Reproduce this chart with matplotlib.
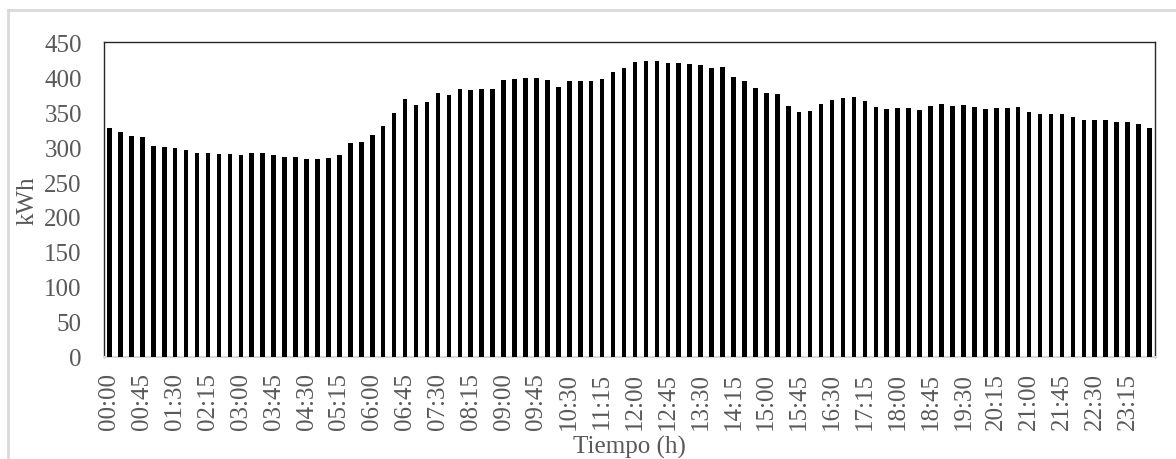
import matplotlib
matplotlib.use("Agg")
import matplotlib.pyplot as plt
from matplotlib.lines import Line2D

# Energy consumption per 15-minute interval over one day (kWh)
consumo_kwh = [
    327, 322, 316, 315, 302, 300, 299, 296, 292, 291, 290, 290, 289, 291, 291, 289,
    286, 286, 283, 283, 284, 289, 306, 307, 318, 330, 349,
    369, 360, 364, 377, 375, 383, 382, 383, 383, 396, 398, 399, 399, 396, 386, 395,
    394, 394, 398, 408, 413, 422, 423, 423, 421, 420, 419, 418, 413, 414, 401, 395,
    385, 378, 376,
    359, 350, 352, 362, 368, 370, 371, 366, 358, 354, 356, 356, 353, 359, 361, 359,
    360, 357, 355, 356, 356, 357, 350, 348, 348, 347, 343, 339, 339, 339, 336, 336,
    333, 328,
]

# Interval start times (hh:mm)
horas = [f"{(15 * i) // 60:02d}:{(15 * i) % 60:02d}" for i in range(96)]
paso_etiquetas = 3

y_ticks = [0, 50, 100, 150, 200, 250, 300, 350, 400, 450]

W, H = 1176, 460
fig = plt.figure(figsize=(W / 100, H / 100), dpi=100)
ax_w = 1155 - 104
ax_h = 357.7 - 43.3
ax = fig.add_axes([104 / W, 1 - 357.7 / H, ax_w / W, ax_h / H])

txt = "#595959"
fuente = "Liberation Serif"
fs = 18

pos = list(range(len(consumo_kwh)))
ax.bar(pos, consumo_kwh, width=0.42, color="black", zorder=3)

ax.set_xlim(-0.5, len(consumo_kwh) - 0.5)
ax.set_ylim(0, 450)
ax.set_yticks(y_ticks)
ax.set_yticklabels([str(v) for v in y_ticks], fontsize=fs, family=fuente, color=txt)
ax.set_xticks(pos[::paso_etiquetas])
ax.set_xticklabels(horas[::paso_etiquetas], rotation=90, fontsize=fs,
                   family=fuente, color=txt)
ax.tick_params(axis="both", length=0)
ax.tick_params(axis="y", pad=16)
ax.tick_params(axis="x", pad=11)

for lado in ("left", "top", "right"):
    ax.spines[lado].set_color("#262626")
    ax.spines[lado].set_linewidth(1.0)
ax.spines["bottom"].set_color("#d9d9d9")
ax.spines["bottom"].set_linewidth(1.5)

ax.set_ylabel("kWh", fontsize=fs, family=fuente, color=txt)
ax.set_xlabel("Tiempo (h)", fontsize=fs, family=fuente, color=txt)
ax.yaxis.set_label_coords(-65 / ax_w, 0.5)
ax.xaxis.label.set_verticalalignment("center")
ax.xaxis.set_label_coords(0.5, -(447 - 357.7) / ax_h)

# Light outer frame of the chart area
gris = "#d9d9d9"
fig.add_artist(Line2D([7.5 / W, 7.5 / W], [0, 1 - 10.5 / H],
                      transform=fig.transFigure, color=gris, lw=2))
fig.add_artist(Line2D([7.5 / W, 1], [1 - 10.5 / H, 1 - 10.5 / H],
                      transform=fig.transFigure, color=gris, lw=2))

fig.savefig("out.png", dpi=100, facecolor="white")
